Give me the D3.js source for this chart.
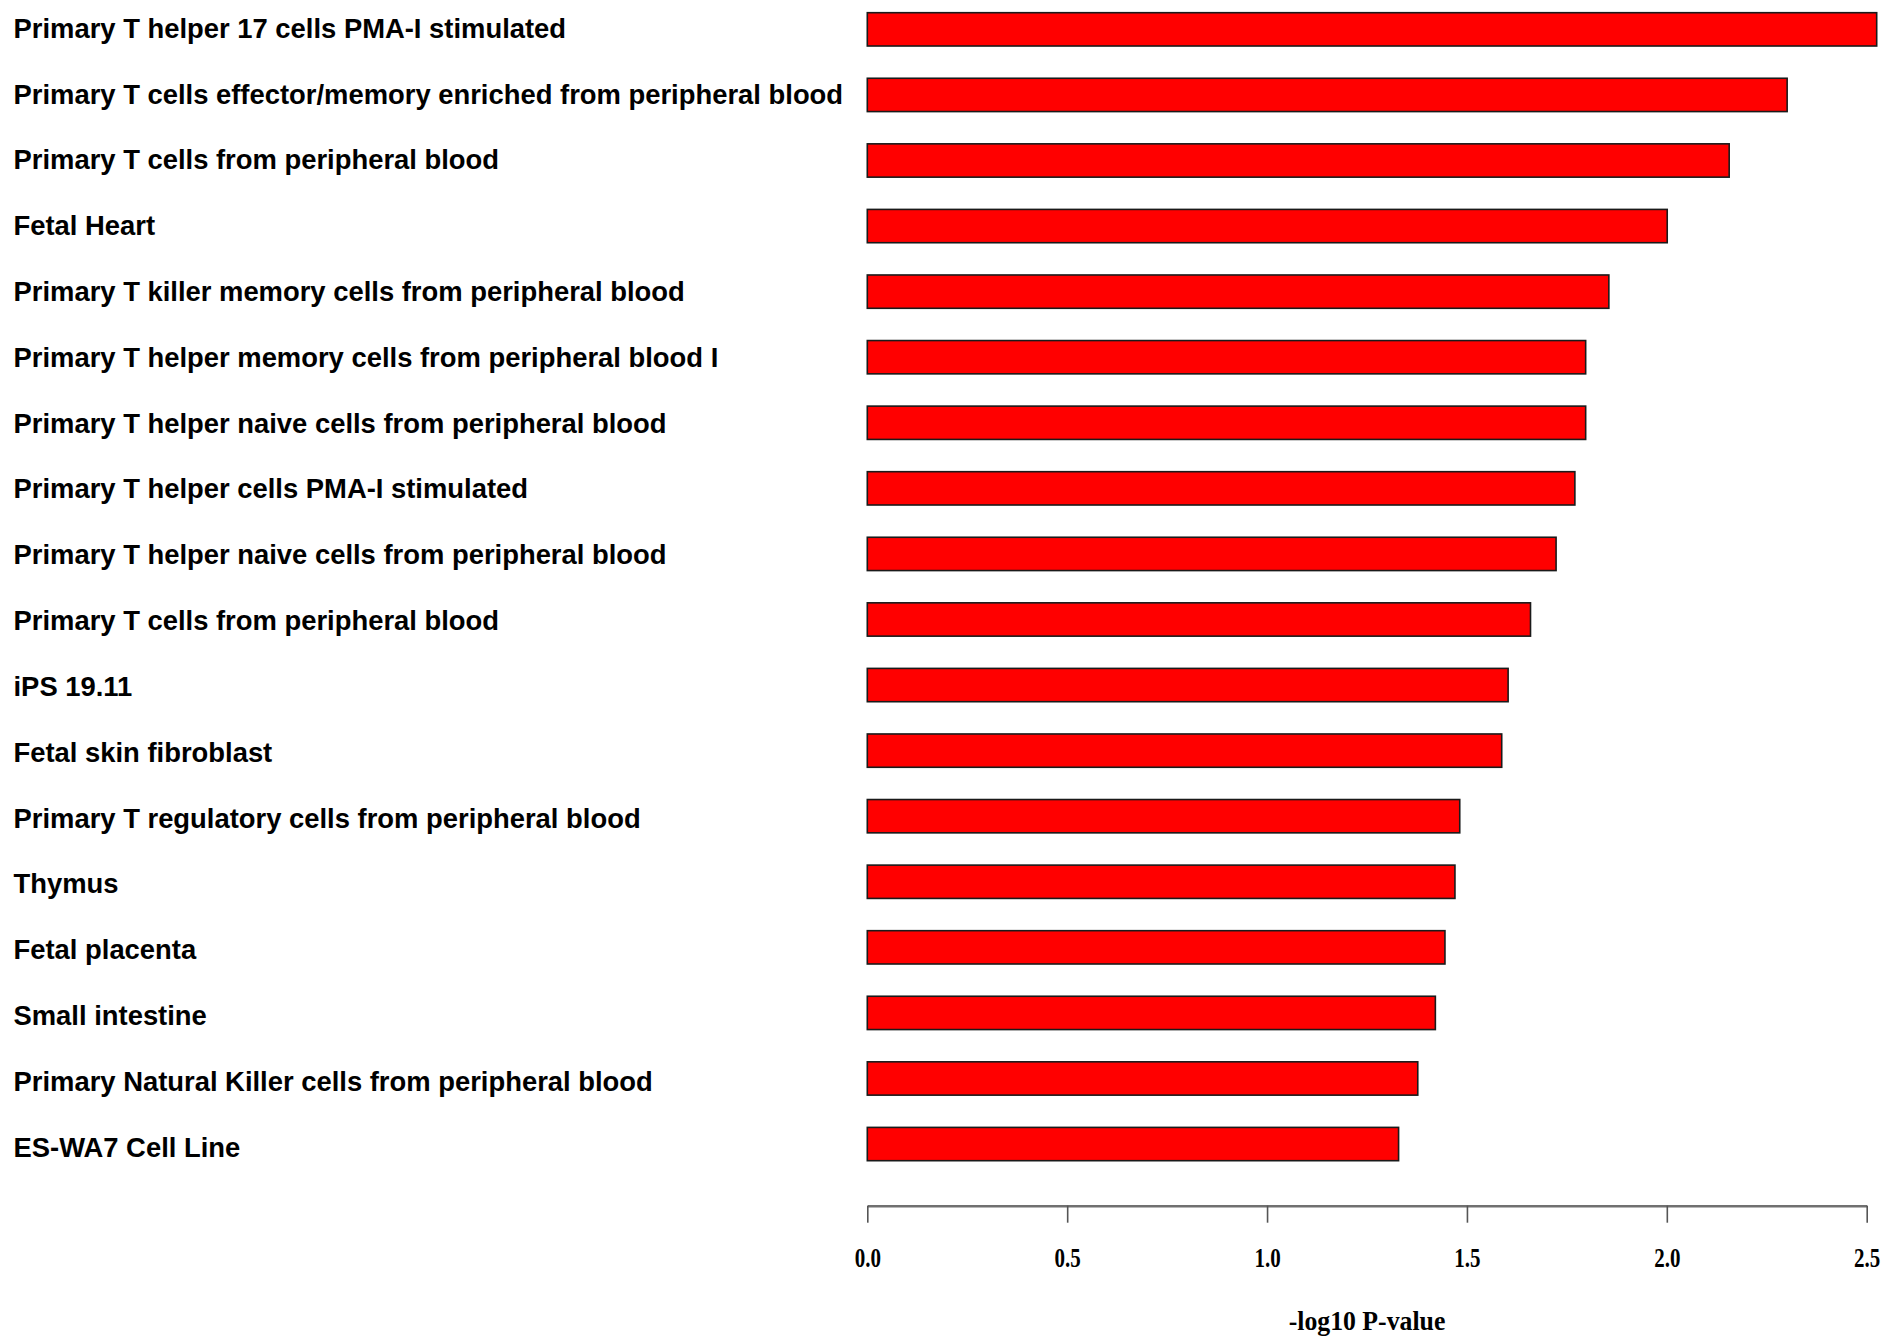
<!DOCTYPE html>
<html>
<head>
<meta charset="utf-8">
<script src="https://cdn.jsdelivr.net/npm/d3@7"></script>
<style>
  html, body { margin: 0; padding: 0; background: #fff; }
  svg { display: block; }
</style>
</head>
<body>
<svg id="chart" width="1883" height="1338"></svg>
<script>
// Tissue / cell-type enrichment, ordered from most to least significant
const categories = [
  "Primary T helper 17 cells PMA-I stimulated",
  "Primary T cells effector/memory enriched from peripheral blood",
  "Primary T cells from peripheral blood",
  "Fetal Heart",
  "Primary T killer memory cells from peripheral blood",
  "Primary T helper memory cells from peripheral blood I",
  "Primary T helper naive cells from peripheral blood",
  "Primary T helper cells PMA-I stimulated",
  "Primary T helper naive cells from peripheral blood",
  "Primary T cells from peripheral blood",
  "iPS 19.11",
  "Fetal skin fibroblast",
  "Primary T regulatory cells from peripheral blood",
  "Thymus",
  "Fetal placenta",
  "Small intestine",
  "Primary Natural Killer cells from peripheral blood",
  "ES-WA7 Cell Line"
];

// -log10 P-values
const values = [
  2.525, 2.301, 2.156, 2.001, 1.855, 1.797, 1.797, 1.770, 1.723,
  1.659, 1.603, 1.587, 1.482, 1.470, 1.445, 1.421, 1.377, 1.329
];

const xTicks = [0, 0.5, 1.0, 1.5, 2.0, 2.5];
const xTickLabels = ["0.0", "0.5", "1.0", "1.5", "2.0", "2.5"];
const xTitle = "-log10 P-value";

const svg = d3.select("#chart");

const plotLeft = 867.3, plotRight = 1866.7;
const barsTop = 12.7, barsBottom = 1160.7;
const axisY = 1205.7;

const x = d3.scaleLinear().domain([0, 2.5]).range([plotLeft, plotRight]);
const y = d3.scaleBand()
  .domain(d3.range(categories.length))
  .range([barsTop, barsBottom])
  .paddingInner(0.492)
  .paddingOuter(0);

// Label rows are spaced a touch wider than the bars
const yLabel = d3.scalePoint()
  .domain(d3.range(categories.length))
  .range([29.2, 1148.2]);

// Bars
svg.append("g")
  .selectAll("rect")
  .data(values)
  .join("rect")
  .attr("x", x(0))
  .attr("y", (d, i) => y(i))
  .attr("width", d => x(d) - x(0))
  .attr("height", y.bandwidth())
  .attr("fill", "#ff0000")
  .attr("stroke", "#1a1a1a")
  .attr("stroke-width", 1.6);

// Category labels
svg.append("g")
  .selectAll("text")
  .data(categories)
  .join("text")
  .attr("x", 13.5)
  .attr("y", (d, i) => yLabel(i))
  .attr("dy", "0.31em")
  .attr("font-family", "'Liberation Sans', Arial, sans-serif")
  .attr("font-weight", "bold")
  .attr("font-size", 27.4)
  .attr("fill", "#000")
  .text(d => d);

// Bottom axis
const axis = d3.axisBottom(x)
  .tickValues(xTicks)
  .tickFormat((d, i) => xTickLabels[i])
  .tickSize(17)
  .tickSizeOuter(0)
  .tickPadding(0);

const gAxis = svg.append("g")
  .attr("transform", `translate(0,${axisY})`)
  .call(axis);

gAxis.select(".domain")
  .attr("stroke", "#707070")
  .attr("stroke-width", 2.4);
gAxis.selectAll(".tick line")
  .attr("stroke", "#555")
  .attr("stroke-width", 1.6);
gAxis.selectAll(".tick text")
  .attr("y", 0)
  .attr("dy", 0)
  .attr("transform", "translate(0,61) scale(0.75,1)")
  .attr("x", 0)
  .attr("font-family", "'Liberation Serif', 'Times New Roman', serif")
  .attr("font-weight", "bold")
  .attr("font-size", 28)
  .attr("fill", "#000");

// Axis title
svg.append("text")
  .attr("transform", `translate(${(plotLeft + plotRight) / 2},1330) scale(0.92,1)`)
  .attr("text-anchor", "middle")
  .attr("font-family", "'Liberation Serif', 'Times New Roman', serif")
  .attr("font-weight", "bold")
  .attr("font-size", 28)
  .attr("fill", "#000")
  .text(xTitle);
</script>
</body>
</html>
